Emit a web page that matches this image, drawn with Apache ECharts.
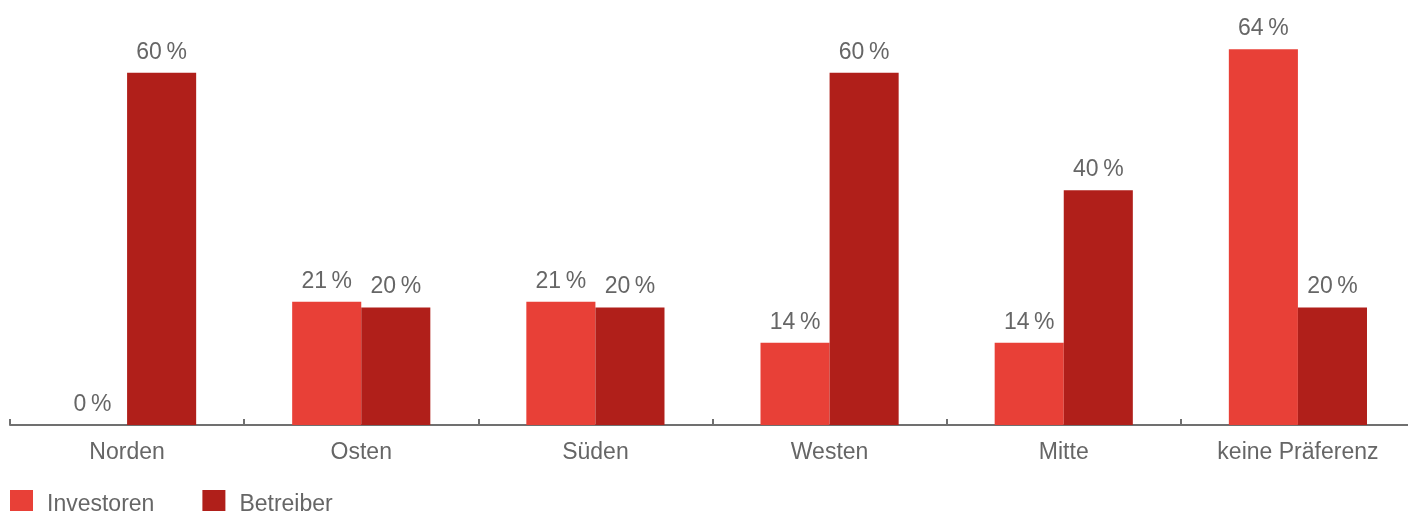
<!DOCTYPE html>
<html>
<head>
<meta charset="utf-8">
<script src="https://cdn.jsdelivr.net/npm/echarts@6/dist/echarts.min.js"></script>
<style>
  html, body { margin: 0; padding: 0; background: #fff; overflow: hidden; }
  /* the chart is a little wider than the page so the last slot runs off the right edge */
  #chart { width: 1420px; height: 511px; }
</style>
</head>
<body>
<div id="chart"></div>
<script>
// Regional preference, share of respondents in percent
const regions = ['Norden', 'Osten', 'Süden', 'Westen', 'Mitte', 'keine Präferenz'];
const investoren = [0, 21, 21, 14, 14, 64];
const betreiber = [60, 20, 20, 60, 40, 20];
const seriesNames = ['Investoren', 'Betreiber'];

const FONT = '"Liberation Sans", Arial, Helvetica, sans-serif';
const TEXT_COLOR = '#666666';

const chart = echarts.init(document.getElementById('chart'), null, { renderer: 'canvas' });

const barLabel = {
  show: true,
  position: 'top',
  distance: 9,
  color: TEXT_COLOR,
  fontFamily: FONT,
  fontSize: 23,
  formatter: p => p.value + '\u2009%'
};

chart.setOption({
  animation: false,
  backgroundColor: '#ffffff',
  grid: { left: 10, width: 1405, top: 14, bottom: 86, containLabel: false },
  legend: {
    left: 10,
    top: 490,
    padding: 0,
    itemWidth: 23,
    itemHeight: 22,
    itemGap: 48,
    icon: 'rect',
    formatter: name => '{t|' + name + '}',
    textStyle: {
      color: TEXT_COLOR,
      fontFamily: FONT,
      fontSize: 23,
      rich: {
        // legend names sit a little below the middle of their swatch
        t: { color: TEXT_COLOR, fontFamily: FONT, fontSize: 23, padding: [7, 0, 0, 9] }
      }
    },
    data: seriesNames
  },
  xAxis: {
    type: 'category',
    data: regions,
    axisLine: { show: true, lineStyle: { color: '#707070', width: 2 } },
    axisTick: { show: true, inside: true, length: 6, lineStyle: { color: '#707070', width: 2 } },
    axisLabel: { color: TEXT_COLOR, fontFamily: FONT, fontSize: 23, margin: 16 }
  },
  yAxis: {
    type: 'value',
    min: 0,
    max: 70,
    show: false,
    splitLine: { show: false }
  },
  series: [
    {
      name: seriesNames[0],
      type: 'bar',
      data: investoren,
      itemStyle: { color: '#e84037' },
      barGap: '0%',
      barCategoryGap: '41%',
      label: barLabel
    },
    {
      name: seriesNames[1],
      type: 'bar',
      data: betreiber,
      itemStyle: { color: '#b01f1a' },
      barGap: '0%',
      barCategoryGap: '41%',
      label: barLabel
    }
  ]
});
</script>
</body>
</html>
